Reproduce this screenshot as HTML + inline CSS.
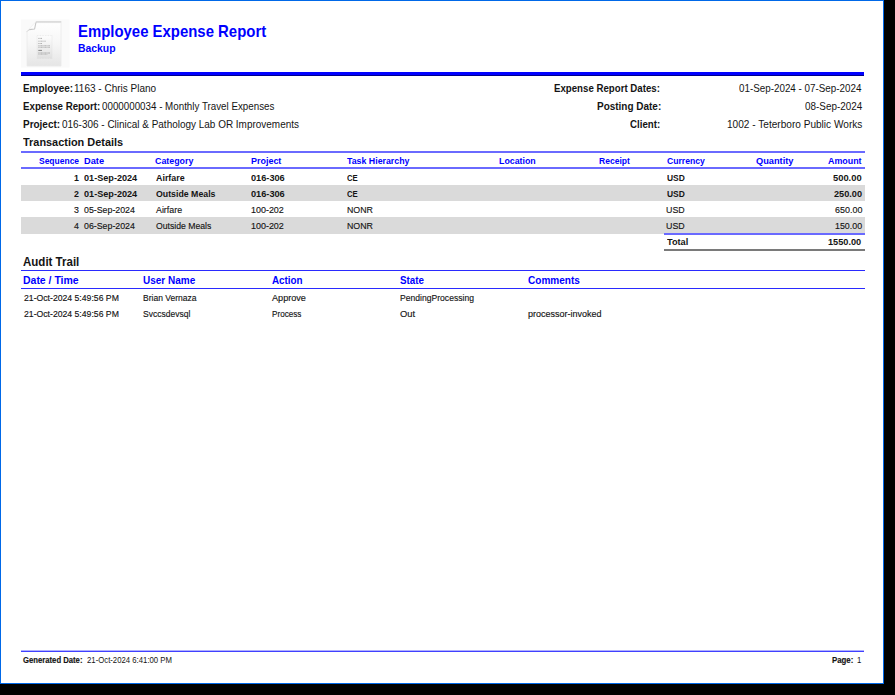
<!DOCTYPE html>
<html><head><meta charset="utf-8"><style>
html,body{margin:0;padding:0;background:#000;width:895px;height:695px;overflow:hidden}
.pg{position:absolute;left:0;top:0;width:882px;height:682px;background:#fff;border:1px solid #0068e8}
.t{position:absolute;white-space:nowrap;font-family:"Liberation Sans",sans-serif;line-height:1;color:#141414;transform-origin:0 0}
.ln{position:absolute}
</style></head><body>
<div class=pg></div>
<svg style="position:absolute;left:0;top:0" width="80" height="80" viewBox="0 0 80 80">
<defs>
<linearGradient id="pgG" x1="0" y1="0" x2="0" y2="1"><stop offset="0" stop-color="#ffffff"/><stop offset="0.5" stop-color="#f6f6f6"/><stop offset="1" stop-color="#e5e5e5"/></linearGradient>
<linearGradient id="inG" x1="0" y1="0" x2="0" y2="1"><stop offset="0" stop-color="#fdfdfd"/><stop offset="1" stop-color="#e0e0e0"/></linearGradient>
<linearGradient id="topG" x1="0" y1="0" x2="0" y2="1"><stop offset="0" stop-color="#c4c4c4"/><stop offset="1" stop-color="#f4f4f4"/></linearGradient>
</defs>
<rect x="21" y="19.5" width="48.5" height="48" fill="#fafafa"/>
<path d="M36 21.6 H61 V66 H27 V31.3 Z" fill="url(#pgG)"/>
<path d="M27 31.3 V66 H61 V21.6" fill="none" stroke="#eaeaea" stroke-width="0.8"/>
<rect x="35.8" y="21.4" width="25.4" height="1.8" fill="url(#topG)"/>
<path d="M35.8 21.6 L34.4 28.9 L29.2 29.5 L26.6 31.4 Z" fill="#fdfdfd"/>
<path d="M36 22.2 L34.6 29.0 L29.2 29.6" fill="none" stroke="#c6c6c6" stroke-width="1.1" stroke-linejoin="round"/>
<path d="M29.2 29.8 L26.6 31.6" stroke="#d4d4d4" stroke-width="1"/>
<path d="M35.8 21.8 L26.8 31.3" stroke="#ededed" stroke-width="0.7"/>
<rect x="37" y="35.5" width="15.2" height="23" fill="url(#inG)"/>
<path d="M37 35.6 H52.2 M37 58.3 H52.2" stroke="#d6d6d6" stroke-width="0.5" stroke-dasharray="0.8 0.8"/>
<path d="M37.1 35.5 V58.4 M52.1 35.5 V58.4" stroke="#e6e6e6" stroke-width="0.4"/>
<g stroke-dasharray="1 0.35">
<path d="M38.3 38.4 H42" stroke="#9c9c9c" stroke-width="0.8"/>
<path d="M38.3 41.2 H45.8" stroke="#a8a8a8" stroke-width="0.8"/>
<path d="M38.3 43.5 H42" stroke="#a0a0a0" stroke-width="0.8"/>
<path d="M38.3 45.6 H50" stroke="#b0b0b0" stroke-width="0.8"/>
<path d="M38.3 47.2 H50" stroke="#9a9a9a" stroke-width="0.8"/>
<path d="M38.3 50.4 H42" stroke="#777" stroke-width="0.9" stroke-dasharray="none"/>
<path d="M38.3 53 H50" stroke="#999" stroke-width="0.8"/>
<path d="M38.3 54.4 H47.5" stroke="#b5b5b5" stroke-width="0.7"/>
</g>
</svg>

<div class=ln style="left:21px;top:72px;width:843px;height:3px;background:#0000ff;border-bottom:1px solid #00008c"></div>
<div class=ln style="left:21px;top:151px;width:844px;height:2px;background:#6a6aff"></div>
<div class=ln style="left:21px;top:167px;width:844px;height:2px;background:#6a6aff"></div>
<div class=ln style="left:21px;top:185px;width:844px;height:16px;background:#dadada"></div>
<div class=ln style="left:21px;top:217px;width:844px;height:17px;background:#dadada"></div>
<div class=ln style="left:664px;top:233px;width:201px;height:2px;background:#6a6aff"></div>
<div class=ln style="left:664px;top:249px;width:201px;height:2px;background:#7a7a7a"></div>
<div class=ln style="left:21px;top:270px;width:844px;height:1px;background:#2a2aff"></div>
<div class=ln style="left:21px;top:288px;width:844px;height:1px;background:#2a2aff"></div>
<div class=ln style="left:21px;top:650px;width:843px;height:1px;background:#b0b0ff"></div><div class=ln style="left:21px;top:651px;width:843px;height:1px;background:#4040ff"></div>
<div class=t style='left:78.47px;top:23.20px;font-size:16.3px;font-weight:700;color:#0000ff;transform:scaleX(0.9161)'>Employee Expense Report</div>
<div class=t style='left:78.06px;top:42.81px;font-size:11.8px;font-weight:700;color:#0000ff;transform:scaleX(0.8810)'>Backup</div>
<div class=t style='left:22.83px;top:84.07px;font-size:10.2px;font-weight:700;transform:scaleX(0.9735)'>Employee:</div>
<div class=t style='left:73.62px;top:84.07px;font-size:10.2px;transform:scaleX(0.9829)'>1163 - Chris Plano</div>
<div class=t style='left:22.85px;top:101.77px;font-size:10.2px;font-weight:700;transform:scaleX(0.9544)'>Expense Report:</div>
<div class=t style='left:102.00px;top:101.77px;font-size:10.2px;transform:scaleX(0.9603)'>0000000034 - Monthly Travel Expenses</div>
<div class=t style='left:22.82px;top:119.67px;font-size:10.2px;font-weight:700;transform:scaleX(0.9778)'>Project:</div>
<div class=t style='left:61.60px;top:119.67px;font-size:10.2px;transform:scaleX(0.9777)'>016-306 - Clinical &amp; Pathology Lab OR Improvements</div>
<div class=t style='left:554.05px;top:84.07px;font-size:10.2px;font-weight:700;transform:scaleX(0.9491)'>Expense Report Dates:</div>
<div class=t style='left:596.60px;top:101.77px;font-size:10.2px;font-weight:700;transform:scaleX(0.9781)'>Posting Date:</div>
<div class=t style='left:629.80px;top:119.67px;font-size:10.2px;font-weight:700;transform:scaleX(0.9516)'>Client:</div>
<div class=t style='left:739.20px;top:84.07px;font-size:10.2px;transform:scaleX(0.9646)'>01-Sep-2024 - 07-Sep-2024</div>
<div class=t style='left:804.62px;top:101.77px;font-size:10.2px;transform:scaleX(0.9707)'>08-Sep-2024</div>
<div class=t style='left:726.81px;top:119.67px;font-size:10.2px;transform:scaleX(0.9904)'>1002 - Teterboro Public Works</div>
<div class=t style='left:23.23px;top:137.11px;font-size:11.8px;font-weight:700;transform:scaleX(0.9252)'>Transaction Details</div>
<div class=t style='left:39.07px;top:155.72px;font-size:9.9px;font-weight:700;color:#0000ff;transform:scaleX(0.8587)'>Sequence</div>
<div class=t style='left:83.84px;top:155.72px;font-size:9.9px;font-weight:700;color:#0000ff;transform:scaleX(0.9350)'>Date</div>
<div class=t style='left:155.43px;top:155.72px;font-size:9.9px;font-weight:700;color:#0000ff;transform:scaleX(0.8952)'>Category</div>
<div class=t style='left:250.52px;top:155.72px;font-size:9.9px;font-weight:700;color:#0000ff;transform:scaleX(0.9062)'>Project</div>
<div class=t style='left:347.05px;top:155.72px;font-size:9.9px;font-weight:700;color:#0000ff;transform:scaleX(0.8913)'>Task Hierarchy</div>
<div class=t style='left:498.68px;top:155.72px;font-size:9.9px;font-weight:700;color:#0000ff;transform:scaleX(0.8925)'>Location</div>
<div class=t style='left:598.69px;top:155.72px;font-size:9.9px;font-weight:700;color:#0000ff;transform:scaleX(0.8657)'>Receipt</div>
<div class=t style='left:666.50px;top:155.72px;font-size:9.9px;font-weight:700;color:#0000ff;transform:scaleX(0.8738)'>Currency</div>
<div class=t style='left:756.45px;top:155.72px;font-size:9.9px;font-weight:700;color:#0000ff;transform:scaleX(0.9359)'>Quantity</div>
<div class=t style='left:827.86px;top:155.72px;font-size:9.9px;font-weight:700;color:#0000ff;transform:scaleX(0.9000)'>Amount</div>
<div class=t style='left:74.08px;top:172.72px;font-size:9.9px;font-weight:700;transform:scaleX(0.8943)'>1</div>
<div class=t style='left:83.85px;top:172.72px;font-size:9.9px;font-weight:700;transform:scaleX(0.9228)'>01-Sep-2024</div>
<div class=t style='left:155.81px;top:172.72px;font-size:9.9px;font-weight:700;transform:scaleX(0.9000)'>Airfare</div>
<div class=t style='left:251.42px;top:172.72px;font-size:9.9px;font-weight:700;transform:scaleX(0.9306)'>016-306</div>
<div class=t style='left:347.11px;top:172.72px;font-size:9.9px;font-weight:700;transform:scaleX(0.7846)'>CE</div>
<div class=t style='left:666.52px;top:172.72px;font-size:9.9px;font-weight:700;transform:scaleX(0.8550)'>USD</div>
<div class=t style='left:833.44px;top:172.72px;font-size:9.9px;font-weight:700;transform:scaleX(0.9483)'>500.00</div>
<div class=t style='left:74.08px;top:188.82px;font-size:9.9px;font-weight:700;transform:scaleX(0.8943)'>2</div>
<div class=t style='left:83.85px;top:188.82px;font-size:9.9px;font-weight:700;transform:scaleX(0.9228)'>01-Sep-2024</div>
<div class=t style='left:155.81px;top:188.82px;font-size:9.9px;font-weight:700;transform:scaleX(0.8879)'>Outside Meals</div>
<div class=t style='left:251.42px;top:188.82px;font-size:9.9px;font-weight:700;transform:scaleX(0.9306)'>016-306</div>
<div class=t style='left:347.11px;top:188.82px;font-size:9.9px;font-weight:700;transform:scaleX(0.7846)'>CE</div>
<div class=t style='left:666.52px;top:188.82px;font-size:9.9px;font-weight:700;transform:scaleX(0.8550)'>USD</div>
<div class=t style='left:833.81px;top:188.82px;font-size:9.9px;font-weight:700;transform:scaleX(0.9267)'>250.00</div>
<div class=t style='left:74.08px;top:204.52px;font-size:9.9px;-webkit-text-stroke:0.15px currentColor;transform:scaleX(0.8954)'>3</div>
<div class=t style='left:83.87px;top:204.52px;font-size:9.9px;-webkit-text-stroke:0.15px currentColor;transform:scaleX(0.8911)'>05-Sep-2024</div>
<div class=t style='left:155.81px;top:204.52px;font-size:9.9px;-webkit-text-stroke:0.15px currentColor;transform:scaleX(0.8954)'>Airfare</div>
<div class=t style='left:250.52px;top:204.52px;font-size:9.9px;-webkit-text-stroke:0.15px currentColor;transform:scaleX(0.9057)'>100-202</div>
<div class=t style='left:347.05px;top:204.52px;font-size:9.9px;-webkit-text-stroke:0.15px currentColor;transform:scaleX(0.8929)'>NONR</div>
<div class=t style='left:666.48px;top:204.52px;font-size:9.9px;-webkit-text-stroke:0.15px currentColor;transform:scaleX(0.8954)'>USD</div>
<div class=t style='left:834.86px;top:204.52px;font-size:9.9px;-webkit-text-stroke:0.15px currentColor;transform:scaleX(0.9069)'>650.00</div>
<div class=t style='left:74.08px;top:220.52px;font-size:9.9px;-webkit-text-stroke:0.15px currentColor;transform:scaleX(0.8954)'>4</div>
<div class=t style='left:83.87px;top:220.52px;font-size:9.9px;-webkit-text-stroke:0.15px currentColor;transform:scaleX(0.8911)'>06-Sep-2024</div>
<div class=t style='left:155.81px;top:220.52px;font-size:9.9px;-webkit-text-stroke:0.15px currentColor;transform:scaleX(0.8762)'>Outside Meals</div>
<div class=t style='left:250.52px;top:220.52px;font-size:9.9px;-webkit-text-stroke:0.15px currentColor;transform:scaleX(0.9057)'>100-202</div>
<div class=t style='left:347.05px;top:220.52px;font-size:9.9px;-webkit-text-stroke:0.15px currentColor;transform:scaleX(0.8929)'>NONR</div>
<div class=t style='left:666.48px;top:220.52px;font-size:9.9px;-webkit-text-stroke:0.15px currentColor;transform:scaleX(0.8954)'>USD</div>
<div class=t style='left:834.53px;top:220.52px;font-size:9.9px;-webkit-text-stroke:0.15px currentColor;transform:scaleX(0.8966)'>150.00</div>
<div class=t style='left:667.03px;top:237.32px;font-size:9.9px;font-weight:700;transform:scaleX(0.9318)'>Total</div>
<div class=t style='left:828.46px;top:237.32px;font-size:9.9px;font-weight:700;transform:scaleX(0.9286)'>1550.00</div>
<div class=t style='left:23.02px;top:255.74px;font-size:12.0px;font-weight:700;transform:scaleX(0.9596)'>Audit Trail</div>
<div class=t style='left:22.83px;top:274.76px;font-size:10.8px;font-weight:700;color:#0000ff;transform:scaleX(0.9696)'>Date / Time</div>
<div class=t style='left:143.07px;top:274.76px;font-size:10.8px;font-weight:700;color:#0000ff;transform:scaleX(0.9255)'>User Name</div>
<div class=t style='left:271.85px;top:274.76px;font-size:10.8px;font-weight:700;color:#0000ff;transform:scaleX(0.9121)'>Action</div>
<div class=t style='left:400.43px;top:274.76px;font-size:10.8px;font-weight:700;color:#0000ff;transform:scaleX(0.9077)'>State</div>
<div class=t style='left:527.88px;top:274.76px;font-size:10.8px;font-weight:700;color:#0000ff;transform:scaleX(0.9296)'>Comments</div>
<div class=t style='left:23.81px;top:292.56px;font-size:9.5px;-webkit-text-stroke:0.15px currentColor;transform:scaleX(0.9117)'>21-Oct-2024 5:49:56 PM</div>
<div class=t style='left:143.10px;top:292.56px;font-size:9.5px;-webkit-text-stroke:0.15px currentColor;transform:scaleX(0.8966)'>Brian Vernaza</div>
<div class=t style='left:271.82px;top:292.56px;font-size:9.5px;-webkit-text-stroke:0.15px currentColor;transform:scaleX(0.9588)'>Approve</div>
<div class=t style='left:400.43px;top:292.56px;font-size:9.5px;-webkit-text-stroke:0.15px currentColor;transform:scaleX(0.9037)'>PendingProcessing</div>
<div class=t style='left:23.81px;top:308.66px;font-size:9.5px;-webkit-text-stroke:0.15px currentColor;transform:scaleX(0.9117)'>21-Oct-2024 5:49:56 PM</div>
<div class=t style='left:143.10px;top:308.66px;font-size:9.5px;-webkit-text-stroke:0.15px currentColor;transform:scaleX(0.8961)'>Svccsdevsql</div>
<div class=t style='left:271.89px;top:308.66px;font-size:9.5px;-webkit-text-stroke:0.15px currentColor;transform:scaleX(0.8559)'>Process</div>
<div class=t style='left:400.40px;top:308.66px;font-size:9.5px;-webkit-text-stroke:0.15px currentColor;transform:scaleX(0.9867)'>Out</div>
<div class=t style='left:527.86px;top:308.66px;font-size:9.5px;-webkit-text-stroke:0.15px currentColor;transform:scaleX(0.9487)'>processor-invoked</div>
<div class=t style='left:23.42px;top:656.66px;font-size:8.2px;font-weight:700;-webkit-text-stroke:0.15px currentColor;transform:scaleX(0.9403)'>Generated Date:</div>
<div class=t style='left:86.83px;top:656.66px;font-size:8.2px;transform:scaleX(0.9477)'>21-Oct-2024 6:41:00 PM</div>
<div class=t style='left:832.41px;top:656.66px;font-size:8.2px;font-weight:700;-webkit-text-stroke:0.15px currentColor;transform:scaleX(0.9571)'>Page:</div>
<div class=t style='left:857.43px;top:656.66px;font-size:8.2px;transform:scaleX(0.9477)'>1</div>
</body></html>
